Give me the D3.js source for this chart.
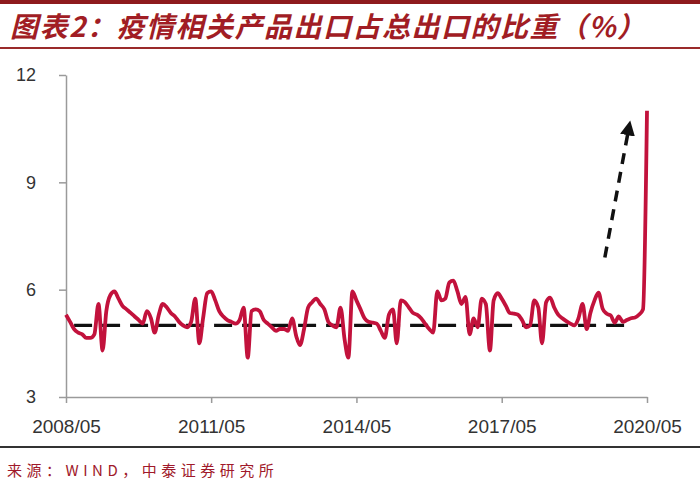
<!DOCTYPE html>
<html>
<head>
<meta charset="utf-8">
<script src="https://cdnjs.cloudflare.com/ajax/libs/d3/7.8.5/d3.min.js"></script>
<style>
    body { margin: 0; background: #fff; }
    #viz { width: 700px; height: 490px; }
    .y-axis text { font-family: "Liberation Sans", Arial, sans-serif; font-size: 18px; fill: #333; }
    .x-axis text { font-family: "Liberation Sans Narrow", "Liberation Sans", Arial, sans-serif; font-size: 19px; fill: #333; }
</style>
</head>
<body>
<div id="viz"></div>
<script>
// monthly share of epidemic-related products in total exports (%), 2008/05 - 2020/05
const startMonth = '2008/05';
const shareValues = [
    5.3, 5.1, 4.9, 4.8, 4.75, 4.65, 4.65, 4.75, 5.6, 4.3,
    5.4, 5.85, 5.95, 5.75, 5.55, 5.45, 5.35, 5.25, 5.15, 5.05,
    5.4, 5.2, 4.8, 5.3, 5.6, 5.5, 5.35, 5.25, 5.1, 5.0,
    4.95, 5.1, 5.75, 4.5, 5.2, 5.9, 5.95, 5.7, 5.4, 5.25,
    5.15, 5.1, 5.05, 5.15, 5.5, 4.1, 5.4, 5.45, 5.4, 5.15,
    5.05, 4.95, 4.85, 4.9, 4.9, 4.85, 5.2, 4.7, 4.45, 4.9,
    5.5, 5.65, 5.75, 5.6, 5.45, 5.1, 5.0, 4.95, 5.5, 4.6,
    4.1, 5.95, 5.7, 5.45, 5.2, 5.1, 5.08, 5.05, 4.85, 4.65,
    5.3, 5.45, 4.5, 5.7, 5.65, 5.5, 5.35, 5.3, 5.2, 5.05,
    4.9, 4.8, 5.95, 5.7, 5.75, 6.2, 6.25, 5.95, 5.6, 5.8,
    4.75, 5.2, 4.95, 5.75, 5.6, 4.3, 5.7, 5.9, 5.75, 5.55,
    5.35, 5.33, 5.3, 5.15, 4.95, 5.0, 5.7, 5.5, 4.5, 5.65,
    5.78, 5.5, 5.3, 5.2, 5.12, 5.05, 5.0, 5.2, 5.6, 4.9,
    5.35, 5.7, 5.92, 5.47, 5.33, 5.28, 5.08, 5.25, 5.1, 5.15,
    5.2, 5.22, 5.3, 5.45, 11.0
];
const xTickLabels = ['2008/05', '2011/05', '2014/05', '2017/05', '2020/05'];
const yTicks = [3, 6, 9, 12];
// dashed average line and the dashed trend arrow
const avgLineMonths = ['2008/07', '2019/12'];
const avgLineValue = 5.0;
const arrowMonths = ['2019/06/18', '2019/12/10'];
const arrowValues = [6.9, 10.4];

const titleText = '图表2：疫情相关产品出口占总出口的比重（%）';
const sourceText = '来源：WIND，中泰证券研究所';

const parseMonth = d3.timeParse('%Y/%m');
const parseDay = d3.timeParse('%Y/%m/%d');

document.addEventListener('DOMContentLoaded', function() {
    generateViz();
});

function generateViz() {
    const width = 700;
    const height = 490;
    const left = 66, right = 647, top = 75, bottom = 397;

    let svg = d3.select('#viz')
                .append('svg')
                .attr('width', width)
                .attr('height', height);

    // header and footer rules
    svg.append('rect').attr('x', 0).attr('y', 0).attr('width', width).attr('height', 4).attr('fill', '#8e1a1d');
    svg.append('rect').attr('x', 0).attr('y', 47).attr('width', width).attr('height', 2).attr('fill', '#9a2a2a');
    svg.append('rect').attr('x', 0).attr('y', 446).attr('width', width).attr('height', 2).attr('fill', '#333');

    svg.append('text')
       .attr('x', 10)
       .attr('y', 37)
       .attr('font-family', '"Noto Sans CJK SC", sans-serif')
       .attr('font-size', 28)
       .attr('font-weight', 'bold')
       .attr('font-style', 'italic')
       .attr('letter-spacing', 1.5)
       .attr('fill', '#a11d24')
       .text(titleText);

    svg.append('text')
       .attr('x', 7)
       .attr('y', 476)
       .attr('font-family', '"Noto Sans CJK SC", sans-serif')
       .attr('font-size', 15)
       .attr('letter-spacing', 4.5)
       .attr('fill', '#a0192a')
       .text(sourceText);

    const start = parseMonth(startMonth);
    const data = shareValues.map((v, i) => ({ date: d3.timeMonth.offset(start, i), value: v }));

    let xScale = d3.scaleTime()
                   .domain([parseMonth(xTickLabels[0]), parseMonth(xTickLabels[xTickLabels.length - 1])])
                   .range([left, right]);
    let yScale = d3.scaleLinear().domain([3, 12]).range([bottom, top]);

    let xAxis = d3.axisBottom(xScale)
                  .tickValues(xTickLabels.map(parseMonth))
                  .tickFormat(d3.timeFormat('%Y/%m'))
                  .tickSizeInner(6)
                  .tickSizeOuter(0)
                  .tickPadding(17);
    let yAxis = d3.axisLeft(yScale)
                  .tickValues(yTicks)
                  .tickSizeInner(7)
                  .tickSizeOuter(0)
                  .tickPadding(23);

    svg.append('g')
       .attr('class', 'x-axis')
       .attr('transform', 'translate(0, ' + bottom + ')')
       .call(xAxis);
    svg.append('g')
       .attr('class', 'y-axis')
       .attr('transform', 'translate(' + left + ', 0)')
       .call(yAxis);
    svg.selectAll('.x-axis path, .x-axis line, .y-axis path, .y-axis line')
       .attr('stroke', '#9a9a9a')
       .attr('stroke-width', 1.5);

    // average dashed line
    svg.append('line')
       .attr('x1', xScale(parseMonth(avgLineMonths[0])))
       .attr('x2', xScale(parseMonth(avgLineMonths[1])))
       .attr('y1', yScale(avgLineValue))
       .attr('y2', yScale(avgLineValue))
       .attr('stroke', '#111')
       .attr('stroke-width', 3.2)
       .attr('stroke-dasharray', '18,10');

    let line = d3.line()
                 .x(d => xScale(d.date))
                 .y(d => yScale(d.value))
                 .curve(d3.curveMonotoneX);

    svg.append('path')
       .datum(data)
       .attr('d', line)
       .attr('fill', 'none')
       .attr('stroke', '#c2123c')
       .attr('stroke-width', 3.8)
       .attr('stroke-linejoin', 'round');

    // dashed arrow
    svg.append('defs')
       .append('marker')
       .attr('id', 'head')
       .attr('markerUnits', 'userSpaceOnUse')
       .attr('viewBox', '0 0 10 10')
       .attr('refX', 2)
       .attr('refY', 5)
       .attr('markerWidth', 15)
       .attr('markerHeight', 15)
       .attr('orient', 'auto')
       .append('path')
       .attr('d', 'M0,0 L10,5 L0,10 Z')
       .attr('fill', '#111');

    const ax = arrowMonths.map(parseDay).map(xScale);
    const ay = arrowValues.map(yScale);
    svg.append('line')
       .attr('x1', ax[0]).attr('y1', ay[0])
       .attr('x2', ax[1]).attr('y2', ay[1])
       .attr('stroke', '#111')
       .attr('stroke-width', 3.5)
       .attr('stroke-dasharray', '11,8')
       .attr('marker-end', 'url(#head)');
}
</script>
</body>
</html>
